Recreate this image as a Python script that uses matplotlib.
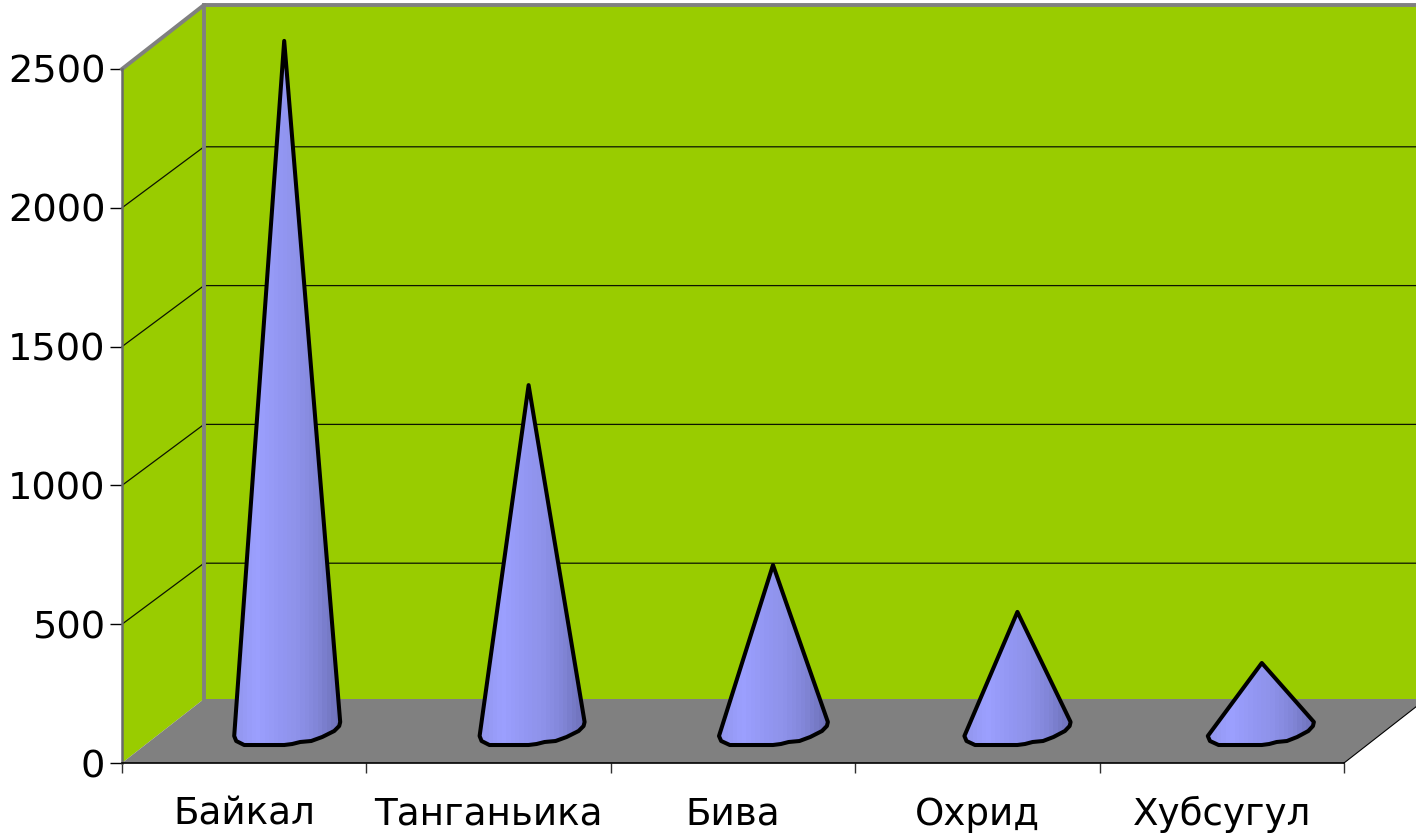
import numpy as np
import matplotlib
matplotlib.use("Agg")
import matplotlib.pyplot as plt
from matplotlib.colors import LinearSegmentedColormap
from matplotlib.patches import Polygon

# chart data
lakes = ["Байкал", "Танганьика", "Бива", "Охрид", "Хубсугул"]
depths = [2486, 1246, 598, 429, 245]
y_ticks = [0, 500, 1000, 1500, 2000, 2500]

# geometry of the fake 3D box, in pixels of the reference
W, H = 1416, 834
X0, Y0, X1, Y1 = 122, 763, 1344, 69
px_x = (X1 - X0) / len(lakes)
px_y = (Y0 - Y1) / 2500
dx = 82 / px_x
dy = 64 / px_y
grid_dy = 61 / px_y  # the grid sits a bit lower than the wall top

GREEN = "#99cc00"
GREY = "#808080"

fig = plt.figure(figsize=(W / 100, H / 100), dpi=100)
ax = fig.add_axes([X0 / W, 1 - Y0 / H, (X1 - X0) / W, (Y0 - Y1) / H])

# walls and floor
right = len(lakes) + dx
ax.add_patch(Polygon([(dx, dy), (right, dy), (right, 2500 + dy), (dx, 2500 + dy)],
                     fc=GREEN, ec="none", clip_on=False, zorder=1))
ax.add_patch(Polygon([(0, 0), (dx, dy), (dx, 2500 + dy), (0, 2500)],
                     fc=GREEN, ec="none", clip_on=False, zorder=1))
ax.add_patch(Polygon([(0, 0), (len(lakes), 0), (right, dy), (dx, dy)],
                     fc=GREY, ec="none", clip_on=False, zorder=1))

# grid lines run along the left wall and then the back wall
for v in y_ticks[1:-1]:
    ax.plot([0, dx, right], [v, v + grid_dy, v + grid_dy], color="#0c1400", lw=0.9,
            clip_on=False, zorder=2)

# grey border of the walls
ax.plot([0, dx, right], [2500, 2500 + dy, 2500 + dy], color=GREY, lw=2.8,
        clip_on=False, zorder=3)
ax.plot([dx, dx], [dy, 2500 + dy], color=GREY, lw=2.8, clip_on=False, zorder=3)
ax.plot([0, 0], [0, 2500], color="#6a6a6a", lw=1.8, clip_on=False, zorder=3)
ax.plot([len(lakes), right], [0, dy], color="black", lw=0.8, clip_on=False, zorder=3)
ax.plot([0, len(lakes)], [0, 0], color="black", lw=1.2, clip_on=False, zorder=3)

# cones, the base outline is given relative to the tip in pixels
base_px_x = [-50, -48, -40, -30, 0, 8, 16, 27, 38, 50, 55, 56]
base_px_y = [27, 22, 18, 18, 18, 19, 21, 22, 26, 32, 37, 41]
left_scale = [1.0, 0.98, 1.08, 1.06, 1.08]
right_scale = [1.0, 1.0, 0.98, 0.95, 0.93]
cone_cmap = LinearSegmentedColormap.from_list(
    "cone", ["#9296ee", "#9ca0ff", "#9498f4", "#8e92ea", "#8286d8", "#6e71ba"])
stripes = np.round(np.linspace(0, 1, 24) * 23) / 23

for i, depth in enumerate(depths):
    tip_x = i + 0.5 + dx / 2 - 1 / px_x
    tip_y = depth + dy / 2
    bx = [tip_x + p * (left_scale[i] if p < 0 else right_scale[i]) / px_x for p in base_px_x]
    by = [p / px_y for p in base_px_y]
    outline = [(tip_x, tip_y)] + list(zip(bx, by))
    img = ax.imshow(stripes[np.newaxis, :], cmap=cone_cmap, aspect="auto",
                    extent=[min(bx), max(bx), 0, tip_y], zorder=4)
    clip = Polygon(outline, transform=ax.transData, fc="none", ec="none")
    ax.add_patch(clip)
    img.set_clip_path(clip)
    ax.add_patch(Polygon(outline, fc="none", ec="black", lw=2.9, joinstyle="round",
                         clip_on=False, zorder=5))

ax.set_xlim(0, len(lakes))
ax.set_ylim(0, 2500)
ax.patch.set_visible(False)
for side in ax.spines.values():
    side.set_visible(False)

ax.set_yticks(y_ticks)
ax.set_xticks(range(len(lakes) + 1))
ax.set_xticklabels([])
ax.set_xticks(np.arange(len(lakes)) + 0.5, lakes, minor=True)
ax.tick_params(axis="y", length=8.5, width=1, color="black", labelsize=27.6, pad=3.5)
ax.tick_params(axis="x", which="major", length=7.5, width=1, color="#303030")
ax.tick_params(axis="x", which="minor", length=0, labelsize=26.8, pad=23.5)

fig.savefig("out.png", dpi=100)
